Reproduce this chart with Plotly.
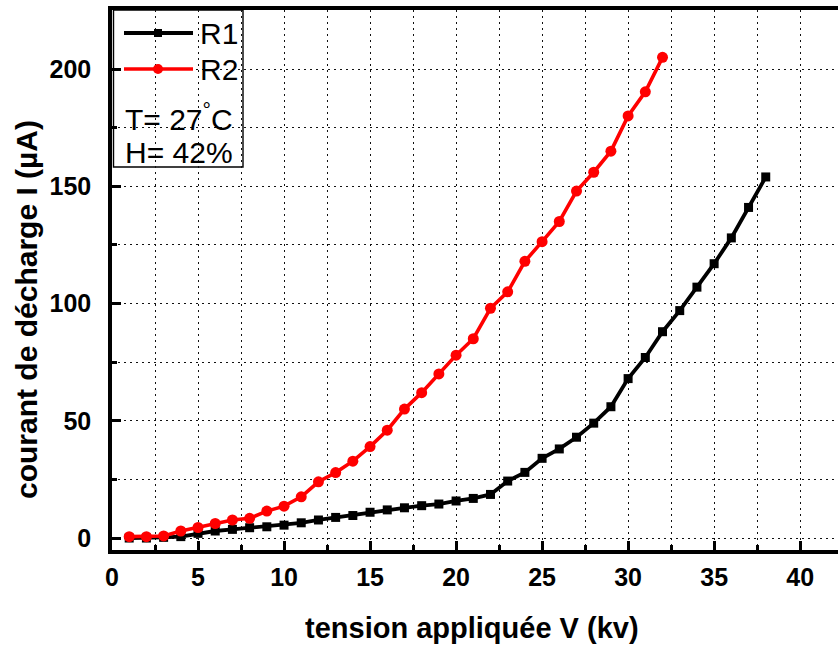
import plotly.graph_objects as go

# Applied voltage (kV) and discharge current (µA) for the two configurations
v_r1 = list(range(1, 39))
i_r1 = [0, 0, 0.3, 0.6, 2, 3, 3.7, 4.4, 4.8, 5.5, 6.5, 7.7, 8.8, 9.6, 11, 12,
        12.9, 13.8, 14.5, 15.8, 16.9, 18.6, 24.3, 28, 34, 38, 43, 49, 56, 68,
        77, 88, 97, 107, 117, 128, 141, 154]

v_r2 = list(range(1, 33))
i_r2 = [0.6, 0.6, 0.9, 3, 4.5, 6.2, 7.7, 8.4, 11.5, 13.6, 17.6, 24, 27.9, 32.8,
        39, 46, 55, 62, 70, 78, 85, 98, 105, 118, 126.4, 135, 148, 156, 165,
        180, 190.3, 205]

x_ticks = [0, 5, 10, 15, 20, 25, 30, 35, 40]
y_ticks = [0, 50, 100, 150, 200]

FONT = "Arial, Liberation Sans, sans-serif"
W, H = 838, 648
ML, MR, MT, MB = 112, 0, 10, 98
PW, PH = W - ML - MR, H - MT - MB


def px(x):
    return (x - ML) / PW


def py(y):
    return (H - MB - y) / PH


fig = go.Figure()
fig.add_trace(go.Scatter(
    x=v_r1, y=i_r1, mode="lines+markers", name="R1", showlegend=False,
    line=dict(color="black", width=3.8),
    marker=dict(symbol="square", size=9, color="black"),
))
fig.add_trace(go.Scatter(
    x=v_r2, y=i_r2, mode="lines+markers", name="R2", showlegend=False,
    line=dict(color="#ff0000", width=3.6),
    marker=dict(symbol="circle", size=11, color="#ff0000"),
))

grid = dict(showgrid=True, gridcolor="#111", gridwidth=1.4, griddash="2px,4px")

fig.update_xaxes(
    range=[0, 42.2], tickvals=x_ticks, ticktext=[str(t) for t in x_ticks],
    ticks="inside", ticklen=9, tickwidth=3, tickcolor="black",
    showline=True, linecolor="black", linewidth=3.5, mirror=True,
    zeroline=False, ticklabelstandoff=2,
    tickfont=dict(family=FONT, size=25, color="black", weight="bold"),
    minor=dict(dtick=2.5, tick0=0, ticks="inside", ticklen=5, tickwidth=2.5,
               tickcolor="black", **grid),
    **grid,
)
fig.update_yaxes(
    range=[-5.1, 225.2], tickvals=y_ticks, ticktext=[str(t) for t in y_ticks],
    ticks="inside", ticklen=9, tickwidth=3, tickcolor="black",
    showline=True, linecolor="black", linewidth=3.5, mirror=False,
    zeroline=False, ticklabelstandoff=12,
    tickfont=dict(family=FONT, size=25, color="black", weight="bold"),
    minor=dict(dtick=25, tick0=0, ticks="inside", ticklen=5, tickwidth=2.5,
               tickcolor="black", **grid),
    **grid,
)

shapes = [
    # legend box
    dict(type="rect", xref="paper", yref="paper", layer="between",
         x0=px(113.5), x1=px(243), y0=py(167), y1=py(10),
         line=dict(color="black", width=1.4), fillcolor="white"),
    # legend samples
    dict(type="line", xref="paper", yref="paper", x0=px(124), x1=px(193),
         y0=py(33), y1=py(33), line=dict(color="black", width=3.8)),
    dict(type="rect", xref="paper", yref="paper", x0=px(154), x1=px(162),
         y0=py(37), y1=py(29), line=dict(width=0), fillcolor="black"),
    dict(type="line", xref="paper", yref="paper", x0=px(124), x1=px(193),
         y0=py(69), y1=py(69), line=dict(color="#ff0000", width=3.6)),
    dict(type="circle", xref="paper", yref="paper", x0=px(153), x1=px(163),
         y0=py(74), y1=py(64), line=dict(width=0), fillcolor="#ff0000"),
]

legend_font = dict(family=FONT, size=30, color="black")
annotations = [
    dict(text="R1", x=px(198), y=py(33), xanchor="left", yanchor="middle"),
    dict(text="R2", x=px(198), y=py(69), xanchor="left", yanchor="middle"),
    dict(text="T= 27<sup>°</sup>C", x=px(123), y=py(117), xanchor="left",
         yanchor="middle"),
    dict(text="H= 42%", x=px(123), y=py(152), xanchor="left", yanchor="middle"),
]
for a in annotations:
    a.update(xref="paper", yref="paper", showarrow=False, font=legend_font)

annotations += [
    dict(text="tension appliquée V (kv)", x=px(472), y=py(628),
         xref="paper", yref="paper", xanchor="center", yanchor="middle",
         showarrow=False,
         font=dict(family=FONT, size=29, color="black", weight="bold")),
    dict(text="courant de décharge I (µA)", x=px(26), y=py(310),
         xref="paper", yref="paper", xanchor="center", yanchor="middle",
         textangle=-90, showarrow=False,
         font=dict(family=FONT, size=30, color="black", weight="bold")),
]

fig.update_layout(
    width=W, height=H, margin=dict(l=ML, r=MR, t=MT, b=MB),
    paper_bgcolor="white", plot_bgcolor="white",
    shapes=shapes, annotations=annotations,
)

fig.write_html("out.html")
